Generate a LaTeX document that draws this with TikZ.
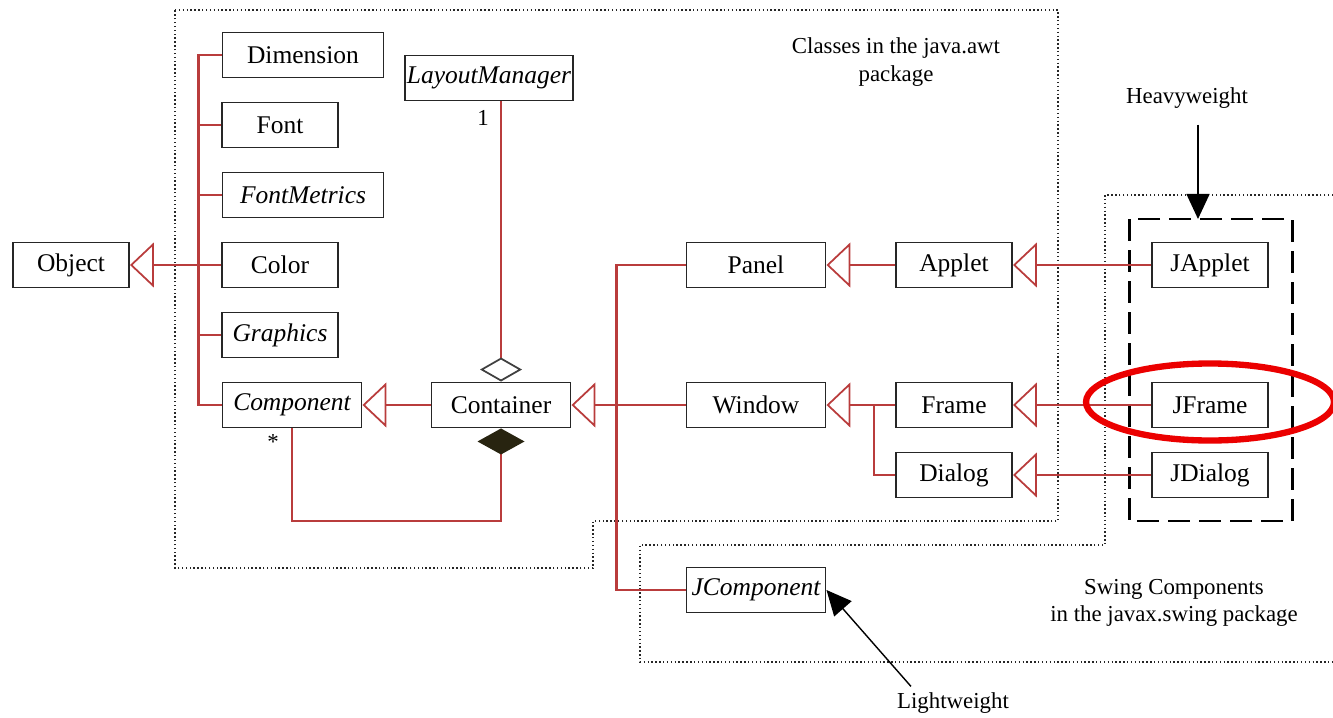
\documentclass[tikz,border=0pt]{standalone}
\usepackage{fontspec}
\setmainfont{Liberation Serif}
\usetikzlibrary{arrows.meta}

\definecolor{umlred}{RGB}{185,60,60}
\definecolor{darkdiam}{RGB}{40,36,16}

\tikzset{
  cls/.style={draw=black!85, line width=1.1pt, fill=white, minimum height=9mm, inner sep=1pt, font=\fontsize{14.5}{17}\selectfont},
  narrowcls/.style={cls, minimum width=23.2mm},
  midcls/.style={cls, minimum width=27.8mm},
  widecls/.style={cls, minimum width=32.2mm},
  link/.style={draw=umlred, line width=1.2pt},
  gen/.style={link, -{Triangle[open, length=4.8mm, width=9mm, fill=white, line width=1pt]}},
  agg/.style={link, -{Diamond[open, length=4.8mm, width=8.4mm, color=black!75, fill=white, line width=1pt]}},
  comp/.style={link, -{Diamond[length=5.2mm, width=9.4mm, color=darkdiam, fill=darkdiam]}},
  pkg/.style={black!85, line width=0.8pt, dash pattern=on 0.8pt off 1.4pt},
  heavybox/.style={black, line width=1.7pt, dash pattern=on 4.4mm off 1.8mm},
  pointer/.style={black, line width=0.8pt, -{Triangle[length=5mm, width=4.6mm]}},
  hilite/.style={draw={rgb,255:red,235;green,0;blue,0}, line width=3.6pt},
  note/.style={align=center, font=\fontsize{13}{15.5}\selectfont},
  mult/.style={inner sep=1pt, font=\fontsize{13}{15.5}\selectfont}
}

\begin{document}
\begin{tikzpicture}[x=0.2mm, y=-0.2mm]
    \useasboundingbox (0,0) rectangle (1333,717);

    % Packages
    \draw[pkg] (175,10) -- (1058,10) -- (1058,521) -- (593,521) -- (593,568) -- (175,568) -- cycle;
    \draw[pkg] (1333,195) -- (1105,195) -- (1105,545) -- (640,545) -- (640,662) -- (1333,662);
    \draw[heavybox] (1129,219) rectangle (1292,521);
    \node[note] (awt) at (896,62) {Classes in the java.awt\\package};
    \node[note] (swing) at (1174,603) {Swing Components\\in the javax.swing package};

    % Classes
    \node[narrowcls] (Object) at (71,265) {Object};
    \node[widecls] (Dimension) at (303,55) {Dimension};
    \node[narrowcls] (Font) at (280,125) {Font};
    \node[widecls] (FontMetrics) at (303,195) {\itshape FontMetrics};
    \node[narrowcls] (Color) at (280,265) {Color};
    \node[narrowcls] (Graphics) at (280,335) {\itshape Graphics};
    \node[midcls] (Component) at (292,405) {\itshape Component};
    \node[widecls] (LayoutManager) at (489,78) {\itshape LayoutManager};
    \node[midcls] (Container) at (501,405) {Container};
    \node[midcls] (Panel) at (756,265) {Panel};
    \node[midcls] (Window) at (756,405) {Window};
    \node[narrowcls] (Applet) at (954,265) {Applet};
    \node[narrowcls] (Frame) at (954,405) {Frame};
    \node[narrowcls] (Dialog) at (954,475) {Dialog};
    \node[midcls] (JComponent) at (756,590) {\itshape JComponent};
    \node[narrowcls] (JApplet) at (1210,265) {JApplet};
    \node[narrowcls] (JFrame) at (1210,405) {JFrame};
    \node[narrowcls] (JDialog) at (1210,475) {JDialog};

    % Object and its subclasses
    \coordinate (objtrunk) at (200,265);
    \draw[link] (Dimension.west) -- ++(-23,0) |- (Component.west);
    \foreach \c in {Font, FontMetrics, Color, Graphics}
        \draw[link] (\c.west) -- ++(-23,0);
    \draw[gen] (objtrunk) -- (Object.east);

    % Component / Container
    \draw[gen] (Container.west) -- (Component.east);
    \draw[agg] (LayoutManager.south -| Container.north) -- (Container.north);
    \coordinate (compbot) at (501,521);
    \draw[comp] (Component.south) |- (compbot) -- (Container.south);
    \node[mult] (one) at (483,118) {1};
    \node[mult] (many) at (273,442) {*};

    % Container subclasses
    \draw[gen] (Window.west) -- (Container.east);
    \draw[link] (Panel.west) -- ++(-69,0) |- (JComponent.west);
    \draw[gen] (Applet.west) -- (Panel.east);
    \draw[gen] (Frame.west) -- (Window.east);
    \draw[link] (Dialog.west) -- ++(-21,0) -- ++(0,-70);

    % Swing top-level classes
    \draw[gen] (JApplet.west) -- (Applet.east);
    \draw[gen] (JFrame.west) -- (Frame.east);
    \draw[gen] (JDialog.west) -- (Dialog.east);

    % Weight labels
    \node[note] (heavy) at (1187,98) {Heavyweight};
    \coordinate (heavytip) at (1198,219);
    \draw[pointer] (heavy.south -| heavytip) ++(0,10) -- (heavytip);
    \node[note] (light) at (953,703) {Lightweight};
    \draw[pointer] ([xshift=4mm]light.north west) -- (JComponent.east);

    % Highlight
    \draw[hilite] ([yshift=0.6mm]JFrame) ellipse [x radius=24.8mm, y radius=7.7mm];
\end{tikzpicture}
\end{document}
